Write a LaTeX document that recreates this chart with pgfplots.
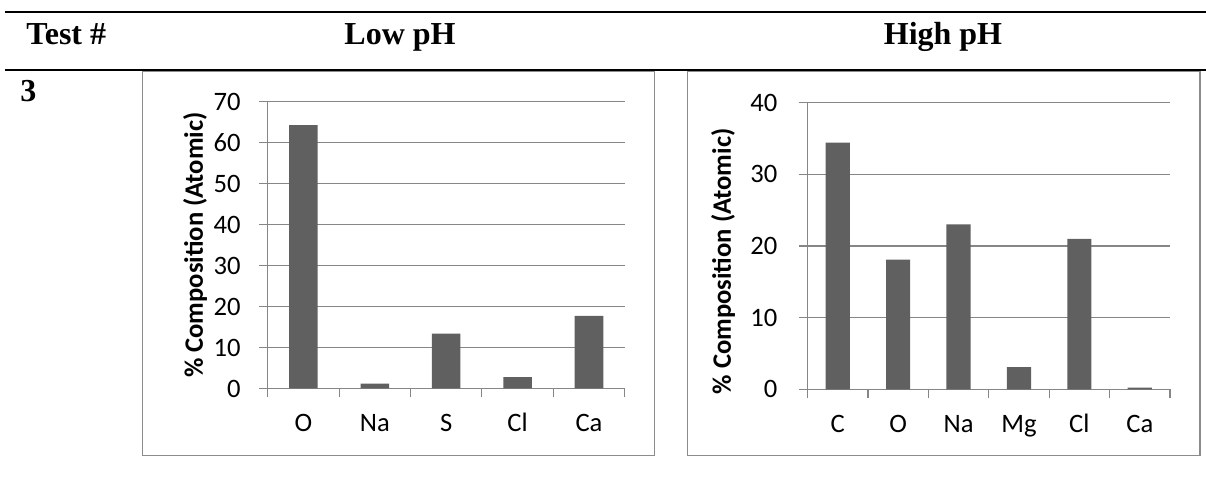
\documentclass[border=0pt]{standalone}
\usepackage{pgfplots}
\pgfplotsset{compat=1.18}
\usepackage{fontspec}
\setmainfont{Liberation Serif}
\newfontfamily\calibri{Carlito}
\definecolor{gridgray}{RGB}{134,134,134}
\definecolor{barcol}{RGB}{96,96,96}
\definecolor{boxgray}{RGB}{140,140,140}

\pgfplotstableread{
x val
0 64.3
1 1.2
2 13.4
3 2.8
4 17.7
}\lowph
\pgfplotstableread{
x val
0 34.4
1 18.1
2 23.0
3 3.1
4 21.0
5 0.25
}\highph

\pgfplotsset{
  excelbar/.style={
    scale only axis,
    ybar, bar width=0.4,
    axis x line*=bottom, axis y line*=left,
    x axis line style={-, draw=gridgray, line width=0.6pt},
    y axis line style={-, draw=gridgray, line width=0.6pt},
    ymajorgrids, major grid style={draw=gridgray, line width=0.6pt},
    tick align=outside, major tick length=4.5pt,
    tick style={draw=gridgray, line width=0.6pt},
    ymin=0,
    xticklabels={},
    /pgf/number format/assume math mode=true,
    tick label style={font=\calibri\fontsize{13.3}{16}\selectfont, text=black},
    every axis y label/.style={rotate=90, anchor=center, font=\calibri\bfseries\fontsize{13.3}{16}\selectfont},
    ylabel={\% Composition (Atomic)},
    extra x tick style={major tick length=0pt, grid=none,
      tick label style={anchor=north, text height=8.6pt, text depth=0pt, yshift=-9.5pt}},
  }
}

\begin{document}
\begin{tikzpicture}
\useasboundingbox (0pt,0pt) rectangle (603pt,238.5pt);
% rules
\draw[line width=1.15pt] (2.5pt,232.4pt) -- (603pt,232.4pt);
\draw[line width=1.15pt] (2.5pt,203.4pt) -- (603pt,203.4pt);
% header
\node[anchor=base west, inner sep=0pt, font=\bfseries\fontsize{16}{19}\selectfont] at (13pt,216.35pt) {Test \#};
\node[anchor=base, inner sep=0pt, font=\bfseries\fontsize{16}{19}\selectfont] at (200pt,216.35pt) {Low pH};
\node[anchor=base, inner sep=0pt, font=\bfseries\fontsize{16}{19}\selectfont] at (471.5pt,216.35pt) {High pH};
\node[anchor=base west, inner sep=0pt, font=\bfseries\fontsize{16}{19}\selectfont] at (10pt,187.65pt) {3};
% boxes
\draw[boxgray, line width=0.7pt] (71.25pt,10.75pt) rectangle (327.15pt,202.65pt);
\draw[boxgray, line width=0.7pt] (343.65pt,10.75pt) rectangle (600pt,202.65pt);

\begin{axis}[excelbar,
  at={(133.85pt,44.25pt)}, anchor=south west,
  width=178.5pt, height=143.4pt,
  xmin=-0.5, xmax=4.5, ymax=70,
  ytick={0,10,...,70},
  yticklabel style={xshift=-5.5pt},
  xtick={-0.5,0.5,...,4.5},
  extra x ticks={0,1,2,3,4},
  extra x tick labels={O,Na,S,Cl,Ca},
  y label style={at={(axis description cs:-0.2036,0.5)}},
]
\addplot[fill=barcol, draw=none] table[x=x, y=val] {\lowph};
\end{axis}

\begin{axis}[excelbar,
  at={(403.75pt,43.85pt)}, anchor=south west,
  width=181.25pt, height=143.35pt,
  xmin=-0.5, xmax=5.5, ymax=40,
  ytick={0,10,...,40},
  yticklabel style={xshift=-7pt},
  xtick={-0.5,0.5,...,5.5},
  extra x ticks={0,1,2,3,4,5},
  extra x tick labels={C,O,Na,Mg,Cl,Ca},
  y label style={at={(axis description cs:-0.233,0.446)}},
]
\addplot[fill=barcol, draw=none] table[x=x, y=val] {\highph};
\end{axis}
\end{tikzpicture}
\end{document}
